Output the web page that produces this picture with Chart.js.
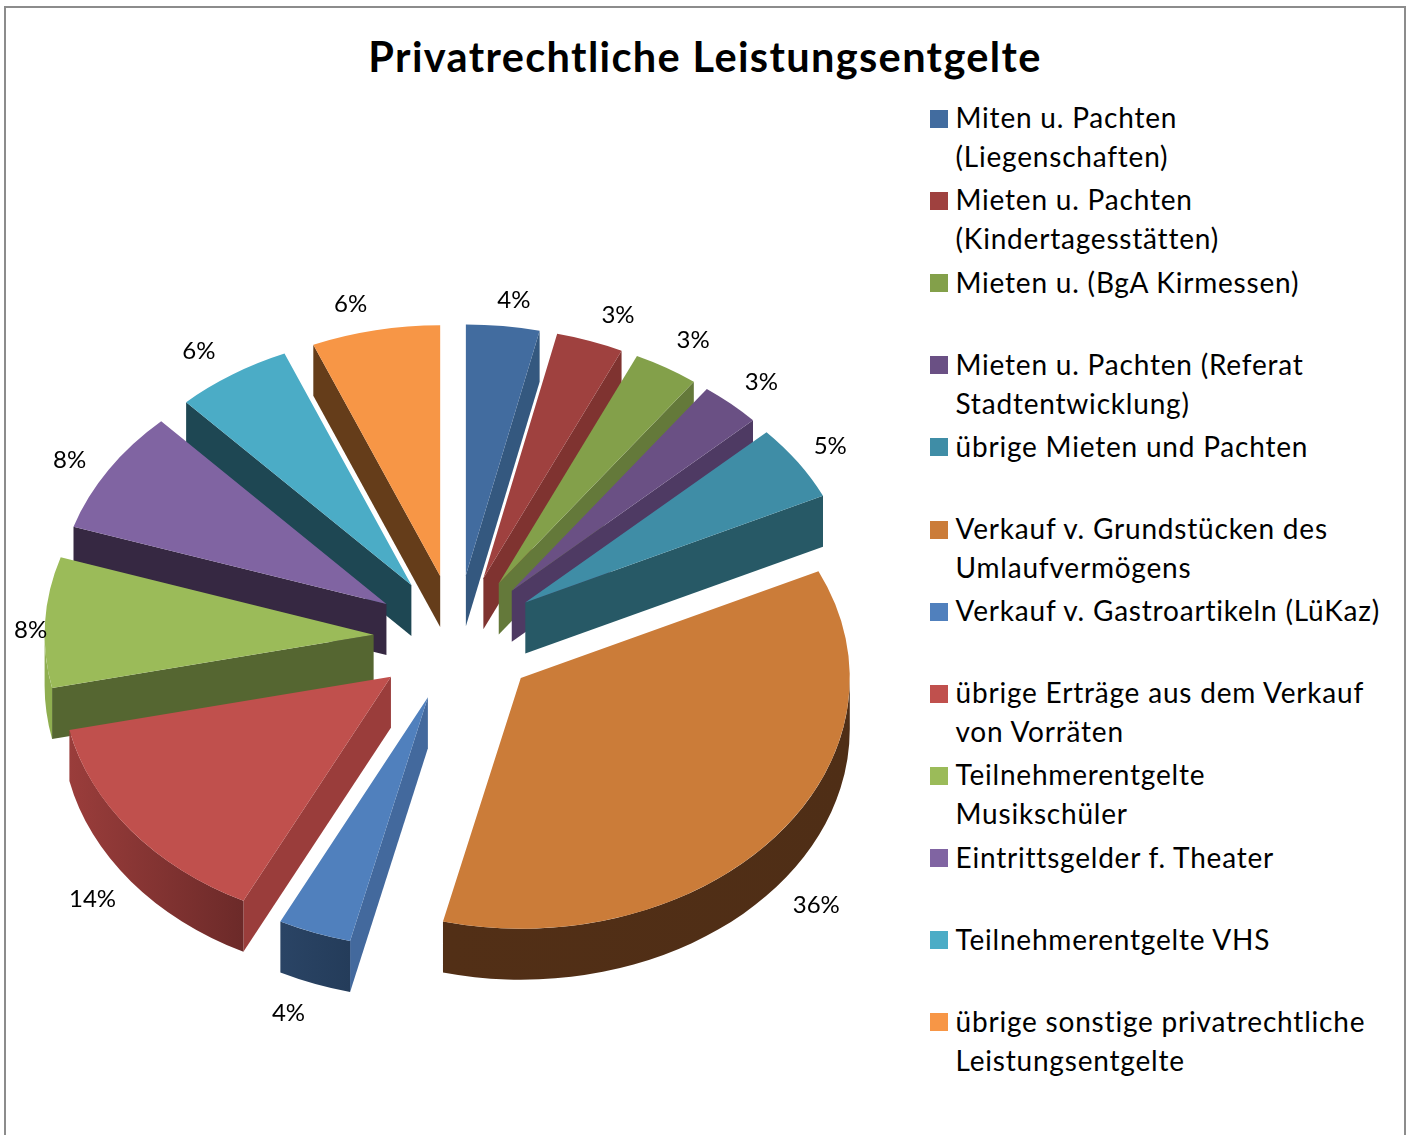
<!DOCTYPE html>
<html lang="de">
<head>
<meta charset="utf-8">
<title>Privatrechtliche Leistungsentgelte</title>
<script src="https://cdn.jsdelivr.net/npm/chart.js@4"></script>
<style>
html, body { margin: 0; background: #fff; overflow: hidden; }
#page { position: relative; width: 1410px; height: 1135px; font-family: Lato, "Open Sans", sans-serif; color: #000; }
#frame { position: absolute; left: 4px; top: 6px; width: 1402px; height: 1140px; border: 2px solid #8c8c8c; box-sizing: border-box; }
#title { position: absolute; left: 0; top: 29px; width: 1410px; margin: 0; text-align: center; font-size: 41.5px; letter-spacing: 1.36px; line-height: 54px; font-weight: 700; }
#pie { position: absolute; left: 0; top: 0; }
#legend { position: absolute; left: 930px; top: 98.3px; margin: 0; padding: 0; list-style: none; font-size: 28px; letter-spacing: 0.8px; line-height: 39px; }
#legend li { position: relative; height: 82.15px; padding-left: 25.5px; white-space: pre-line; }
#legend i { position: absolute; left: 0; top: 11.5px; width: 18px; height: 18px; }
</style>
</head>
<body>
<div id="page">
  <div id="frame"></div>
  <h1 id="title"></h1>
  <canvas id="pie" width="910" height="1135"></canvas>
  <ul id="legend"></ul>
</div>
<script>
// Chart data
const chartTitle = 'Privatrechtliche Leistungsentgelte';
const categories = [
    'Miten u. Pachten\n(Liegenschaften)',
    'Mieten u. Pachten\n(Kindertagesstätten)',
    'Mieten u. (BgA Kirmessen)',
    'Mieten u. Pachten (Referat\nStadtentwicklung)',
    'übrige Mieten und Pachten',
    'Verkauf v. Grundstücken des\nUmlaufvermögens',
    'Verkauf v. Gastroartikeln (LüKaz)',
    'übrige Erträge aus dem Verkauf\nvon Vorräten',
    'Teilnehmerentgelte\nMusikschüler',
    'Eintrittsgelder f. Theater',
    'Teilnehmerentgelte VHS',
    'übrige sonstige privatrechtliche\nLeistungsentgelte'
];
const shares = [3.6, 3.3, 3.2, 3.0, 4.9, 35.8, 3.6, 14.2, 8.4, 8.0, 5.7, 6.3];

// Slice colours
const topColors = ['#426c9f', '#9f413f', '#83a04a', '#6a5084', '#3f8da6', '#cb7c39', '#5080bd', '#c0504d', '#9bbb59', '#8064a2', '#4bacc6', '#f79646'];
const wallColors = ['#34587f', '#7f3330', '#64793a', '#4e3a63', '#275966', '#512f16', '#43699d', '#9a3d3b', '#556631', '#362842', '#1e4753', '#653d1a'];
const rimLeftColors = ['#34587f', '#7f3330', '#64793a', '#4e3a63', '#275966', '#522f16', '#2a4465', '#9a3d3b', '#8fae50', '#362842', '#1e4753', '#653d1a'];
const rimRightColors = ['#34587f', '#7f3330', '#64793a', '#4e3a63', '#275966', '#4f2e16', '#243c5a', '#6c2a29', '#8fae50', '#362842', '#1e4753', '#653d1a'];

// 3D look
const squash = 0.762;
const depth = 51;
const explode = 83;
const labelRadius = 460;
const labelSquash = 0.75;
const labelNudge = [[5.5, 5], [12.5, 4], [2.5, -1], [-1.5, 2], [-7.5, 1], [3.5, -1], [-9.5, 1], [-0.5, 0], [33.5, 10], [1.5, 7], [-7.5, 3], [-15.5, 5]];

// Side walls of the pie, drawn under the library's own arcs
function drawWalls(ctx, arc, i, midLine) {
    const r = arc.outerRadius;
    const ax = arc.x;
    const ay = midLine + (arc.y - midLine) * squash;
    const rimX = a => ax + Math.cos(a) * r;
    const rimY = a => ay + Math.sin(a) * r * squash;

    const flatWall = a => {
        ctx.beginPath();
        ctx.moveTo(ax, ay);
        ctx.lineTo(rimX(a), rimY(a));
        ctx.lineTo(rimX(a), rimY(a) + depth);
        ctx.lineTo(ax, ay + depth);
        ctx.closePath();
        ctx.fillStyle = wallColors[i];
        ctx.fill();
    };
    if (Math.cos(arc.startAngle) < 0) flatWall(arc.startAngle);
    if (Math.cos(arc.endAngle) > 0) flatWall(arc.endAngle);

    // curved outer wall, only the part that faces the viewer
    const a0 = Math.max(arc.startAngle, 0);
    const a1 = Math.min(arc.endAngle, Math.PI);
    if (a1 > a0) {
        const grad = ctx.createLinearGradient(rimX(a1), 0, rimX(a0), 0);
        grad.addColorStop(0, rimLeftColors[i]);
        grad.addColorStop(1, rimRightColors[i]);
        ctx.beginPath();
        ctx.ellipse(ax, ay, r, r * squash, 0, a0, a1);
        ctx.ellipse(ax, ay + depth, r, r * squash, 0, a1, a0, true);
        ctx.closePath();
        ctx.fillStyle = grad;
        ctx.fill();
    }
}

const pie3dPlugin = {
    id: 'pie3d',
    // pull every slice out along its bisector
    afterDatasetsUpdate(chart) {
        chart.getDatasetMeta(0).data.forEach(arc => {
            const mid = (arc.startAngle + arc.endAngle) / 2;
            arc.x += Math.cos(mid) * explode;
            arc.y += Math.sin(mid) * explode;
        });
    },
    beforeDatasetsDraw(chart) {
        const ctx = chart.ctx;
        const midLine = (chart.chartArea.top + chart.chartArea.bottom) / 2;
        const arcs = chart.getDatasetMeta(0).data;
        const midY = a => Math.sin((a.startAngle + a.endAngle) / 2);
        const order = arcs.map((a, i) => i).sort((p, q) => midY(arcs[p]) - midY(arcs[q]));
        ctx.save();
        order.forEach(i => drawWalls(ctx, arcs[i], i, midLine));
        ctx.restore();

        // flatten the arcs the library is about to draw
        ctx.save();
        ctx.translate(0, midLine);
        ctx.scale(1, squash);
        ctx.translate(0, -midLine);
    },
    afterDatasetsDraw(chart) {
        const ctx = chart.ctx;
        ctx.restore();

        // percent labels outside the slices
        const cx = (chart.chartArea.left + chart.chartArea.right) / 2;
        const cy = (chart.chartArea.top + chart.chartArea.bottom) / 2;
        ctx.save();
        ctx.font = '24px Lato, sans-serif';
        ctx.fillStyle = '#000';
        ctx.textAlign = 'center';
        ctx.textBaseline = 'middle';
        chart.getDatasetMeta(0).data.forEach((arc, i) => {
            const mid = (arc.startAngle + arc.endAngle) / 2;
            const x = cx + Math.cos(mid) * labelRadius + labelNudge[i][0];
            let y = cy + Math.sin(mid) * labelRadius * labelSquash + labelNudge[i][1];
            if (Math.sin(mid) > 0) y += 50;
            ctx.fillText(Math.round(shares[i]) + '%', x, y);
        });
        ctx.restore();
    }
};

// Title and legend
document.getElementById('title').textContent = chartTitle;
const legendList = document.getElementById('legend');
categories.forEach((name, i) => {
    const item = document.createElement('li');
    const swatch = document.createElement('i');
    swatch.style.background = topColors[i];
    item.appendChild(swatch);
    item.appendChild(document.createTextNode(name));
    legendList.appendChild(item);
});

// Pie
new Chart(document.getElementById('pie'), {
    type: 'pie',
    data: {
        labels: categories,
        datasets: [{
            data: shares,
            backgroundColor: topColors,
            borderWidth: 0,
            hoverOffset: 0,
            clip: false
        }]
    },
    options: {
        responsive: false,
        animation: false,
        radius: 329,
        events: [],
        layout: { padding: { top: 141, left: 3 } },
        plugins: {
            legend: { display: false },
            title: { display: false },
            tooltip: { enabled: false }
        }
    },
    plugins: [pie3dPlugin]
});
</script>
</body>
</html>
